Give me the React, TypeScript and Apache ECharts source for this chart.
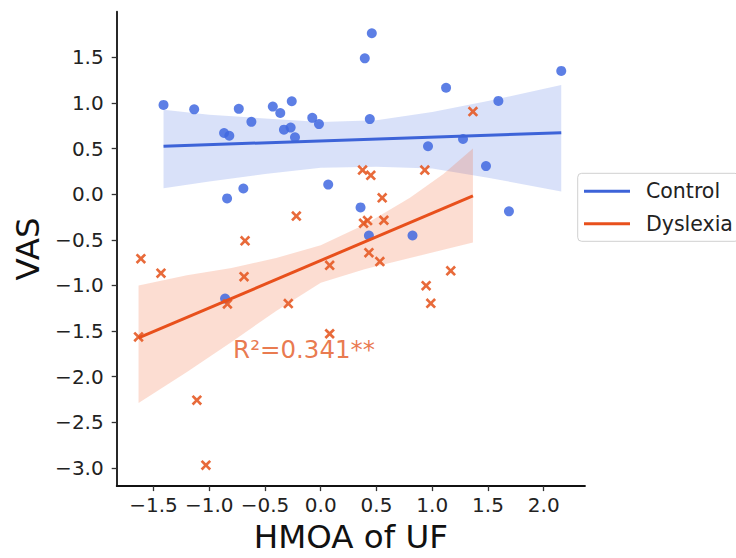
import React, { useEffect, useRef } from "react";
import * as echarts from "echarts";

// ---- data ----
const controlX = [-1.41, -1.135, -0.867, -0.82, -0.735, -0.622, -0.43, -0.363, -0.26, -0.33, -0.27, -0.231, -0.076, -0.016, -0.84, -0.694, 0.067, 0.458, 0.395, 1.124, 2.157, 1.593, 0.44, 0.962, 1.276, 1.482, 1.688, 0.357, 0.432, 0.823, -0.858];
const controlY = [0.978, 0.93, 0.67, 0.64, 0.935, 0.793, 0.96, 0.89, 1.018, 0.707, 0.73, 0.623, 0.837, 0.768, -0.047, 0.062, 0.105, 1.764, 1.489, 1.166, 1.351, 1.022, 0.823, 0.525, 0.605, 0.308, -0.188, -0.145, -0.453, -0.453, -1.145];

const dyslexiaX = [-1.613, -1.433, -1.634, -1.111, -1.03, -0.837, -0.688, -0.679, -0.291, -0.219, 0.08, 0.08, 0.375, 0.449, 0.384, 0.42, 0.566, 0.551, 0.432, 0.53, 0.933, 0.945, 0.987, 1.166, 1.365];
const dyslexiaY = [-0.707, -0.866, -1.565, -2.258, -2.971, -1.203, -0.905, -0.511, -1.199, -0.24, -0.78, -1.53, 0.264, 0.207, -0.319, -0.29, -0.286, -0.04, -0.641, -0.739, 0.264, -1.003, -1.196, -0.84, 0.905];

const controlFitX = [-1.41, 2.157];
const controlFitY = [0.525, 0.674];
const dyslexiaFitX = [-1.634, 1.365];
const dyslexiaFitY = [-1.576, -0.018];

const controlBandX = [-1.41, -1.0, -0.5, 0.0, 0.5, 1.0, 1.5, 2.157];
const controlBandUpper = [0.925, 0.87, 0.83, 0.79, 0.81, 0.9, 1.02, 1.196];
const controlBandLower = [0.065, 0.14, 0.22, 0.29, 0.3, 0.28, 0.18, 0.03];

const dyslexiaBandX = [-1.634, -1.2, -0.8, -0.4, 0.0, 0.4, 0.8, 1.1, 1.365];
const dyslexiaBandUpper = [-1.0, -0.89, -0.81, -0.7, -0.56, -0.33, -0.04, 0.22, 0.5];
const dyslexiaBandLower = [-2.29, -1.95, -1.62, -1.28, -0.97, -0.82, -0.7, -0.61, -0.53];

const xTicks = [-1.5, -1.0, -0.5, 0.0, 0.5, 1.0, 1.5, 2.0];
const yTicks = [-3.0, -2.5, -2.0, -1.5, -1.0, -0.5, 0.0, 0.5, 1.0, 1.5];

const annotationText = "R²=0.341**";
const annotationPos = [-0.786, -1.707];

const FONT = "DejaVu Sans";
const BLUE_LINE = "#3d63d8";
const BLUE_DOT = "#4169e1";
const ORANGE_LINE = "#e8501c";
const ORANGE_X = "#e65a25";

const X_PATH =
  "path://M1.8,0 L5,3.2 L8.2,0 L10,1.8 L6.8,5 L10,8.2 L8.2,10 L5,6.8 L1.8,10 L0,8.2 L3.2,5 L0,1.8 Z";

const fmt = (v: number) => v.toFixed(1).replace("-", "\u2212");

function bandSeries(bx: number[], lo: number[], up: number[], fill: string) {
  return {
    type: "custom",
    z: 1,
    silent: true,
    data: bx.map((x, i) => [x, lo[i], up[i]]),
    encode: { x: 0, y: [1, 2] },
    renderItem: (params: any, api: any) => {
      if (params.dataIndex !== 0) return null;
      const pts: number[][] = [];
      for (let i = 0; i < bx.length; i++) pts.push(api.coord([bx[i], up[i]]));
      for (let i = bx.length - 1; i >= 0; i--) pts.push(api.coord([bx[i], lo[i]]));
      return { type: "polygon", shape: { points: pts }, style: { fill } };
    },
  };
}

export default function App() {
  const ref = useRef<HTMLDivElement>(null);
  useEffect(() => {
    document.body.style.margin = "0";
    document.body.style.overflow = "hidden";
    const chart = echarts.init(ref.current!, null, { renderer: "svg" });
    const axisCommon = {
      type: "value",
      splitLine: { show: false },
      axisLine: { show: true, onZero: false, lineStyle: { color: "#111", width: 1.8 } },
      axisTick: { show: true, length: 5, lineStyle: { color: "#333", width: 1.3 } },
      nameLocation: "middle",
      nameTextStyle: { fontFamily: FONT, fontSize: 32.5, color: "#111" },
    };
    chart.setOption({
      animation: false,
      backgroundColor: "#fff",
      textStyle: { fontFamily: FONT },
      grid: { left: 116.7, top: 11.7, right: 151, bottom: 67.3, containLabel: false },
      xAxis: {
        ...axisCommon,
        min: -1.83,
        max: 2.37,
        name: "HMOA of UF",
        nameGap: 30,
        axisTick: { ...axisCommon.axisTick, customValues: xTicks },
        axisLabel: {
          customValues: xTicks,
          formatter: fmt,
          fontFamily: FONT,
          fontSize: 20,
          color: "#222",
          margin: 9,
        },
      },
      yAxis: {
        ...axisCommon,
        min: -3.2,
        max: 2.0,
        name: "VAS",
        nameGap: 70,
        axisTick: { ...axisCommon.axisTick, customValues: yTicks },
        axisLabel: {
          customValues: yTicks,
          formatter: fmt,
          fontFamily: FONT,
          fontSize: 20,
          color: "#222",
          margin: 13,
        },
      },
      legend: {
        data: ["Control", "Dyslexia"],
        orient: "vertical",
        left: 577.7,
        top: 173.3,
        icon: "rect",
        itemWidth: 46,
        itemHeight: 3,
        itemGap: 11.6,
        padding: [7.4, 6, 7, 6.3],
        borderColor: "#d0d0d0",
        borderWidth: 1,
        borderRadius: 4,
        backgroundColor: "#fff",
        textStyle: { fontFamily: FONT, fontSize: 20.5, color: "#222", lineHeight: 20, padding: [0, 0, 0, 11] },
      },
      series: [
        bandSeries(controlBandX, controlBandLower, controlBandUpper, "rgba(65,105,225,0.2)"),
        bandSeries(dyslexiaBandX, dyslexiaBandLower, dyslexiaBandUpper, "rgba(242,100,50,0.22)"),
        {
          name: "Control points",
          type: "scatter",
          z: 3,
          symbol: "circle",
          symbolSize: 10,
          itemStyle: { color: BLUE_DOT, opacity: 0.85 },
          data: controlX.map((x, i) => [x, controlY[i]]),
        },
        {
          name: "Dyslexia points",
          type: "scatter",
          z: 3,
          symbol: X_PATH,
          symbolSize: 10.5,
          itemStyle: { color: ORANGE_X, opacity: 0.9 },
          data: dyslexiaX.map((x, i) => [x, dyslexiaY[i]]),
        },
        {
          name: "Control",
          type: "line",
          z: 4,
          color: BLUE_LINE,
          showSymbol: false,
          symbol: "none",
          lineStyle: { color: BLUE_LINE, width: 3 },
          data: controlFitX.map((x, i) => [x, controlFitY[i]]),
        },
        {
          name: "Dyslexia",
          type: "line",
          z: 4,
          color: ORANGE_LINE,
          showSymbol: false,
          symbol: "none",
          lineStyle: { color: ORANGE_LINE, width: 3 },
          data: dyslexiaFitX.map((x, i) => [x, dyslexiaFitY[i]]),
        },
        {
          name: "annotation",
          type: "scatter",
          z: 5,
          symbolSize: 0,
          silent: true,
          data: [annotationPos],
          label: {
            show: true,
            position: "right",
            distance: 0,
            formatter: annotationText,
            fontFamily: FONT,
            fontSize: 24.5,
            color: "#e4571f",
          },
        },
      ],
    });
    return () => chart.dispose();
  }, []);
  return <div ref={ref} style={{ width: 736, height: 558 }} />;
}
